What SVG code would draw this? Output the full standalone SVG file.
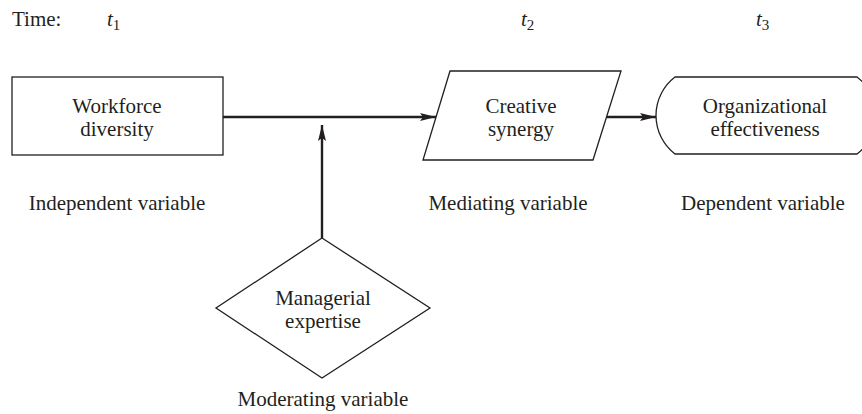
<svg xmlns="http://www.w3.org/2000/svg" width="862" height="414" viewBox="0 0 862 414">
<style>
text{font-family:"Liberation Serif","Times New Roman",serif;font-size:21px;fill:#231f20}
.c{text-anchor:middle}
.shape{fill:#fff;stroke:#231f20;stroke-width:1.3}
.conn{fill:none;stroke:#231f20;stroke-width:2.4}
.it{font-style:italic}
.sub{font-size:15px}
</style>
<defs>
<marker id="ah" markerWidth="17" markerHeight="10" refX="16" refY="5" orient="auto" markerUnits="userSpaceOnUse">
<path d="M0,1 L16,5 L0,9 L3,5 z" fill="#231f20"/>
</marker>
</defs>
<rect width="862" height="414" fill="#fff"/>
<g id="time">
<text x="12" y="26">Time:</text>
<text x="107" y="26"><tspan class="it">t</tspan><tspan class="sub" dy="4">1</tspan></text>
<text x="521" y="26"><tspan class="it">t</tspan><tspan class="sub" dy="4">2</tspan></text>
<text x="756" y="26"><tspan class="it">t</tspan><tspan class="sub" dy="4">3</tspan></text>
</g>
<g id="connectors">
<line class="conn" x1="223" y1="117" x2="436" y2="117" marker-end="url(#ah)"/>
<line class="conn" x1="322" y1="238" x2="322" y2="125" marker-end="url(#ah)"/>
<line class="conn" x1="607" y1="117" x2="656" y2="117" marker-end="url(#ah)"/>
</g>
<g id="workforce">
<rect class="shape" x="12" y="77" width="211" height="78"/>
<text class="c" x="117" y="113">Workforce</text>
<text class="c" x="117" y="136">diversity</text>
<text class="c" x="117" y="210">Independent variable</text>
</g>
<g id="creative">
<polygon class="shape" points="450,71 621,71 593,160 423,160"/>
<text class="c" x="521" y="113">Creative</text>
<text class="c" x="521" y="136">synergy</text>
<text class="c" x="508" y="210">Mediating variable</text>
</g>
<g id="effectiveness">
<path class="shape" d="M675,77 L857,77 A48.5,48.5 0 0 1 857,154 L675,154 A48.5,48.5 0 0 1 675,77 Z"/>
<text class="c" x="765" y="113">Organizational</text>
<text class="c" x="765" y="136">effectiveness</text>
<text class="c" x="763" y="210">Dependent variable</text>
</g>
<g id="managerial">
<polygon class="shape" points="322,238 430,308 322,378 216,308"/>
<text class="c" x="323" y="305">Managerial</text>
<text class="c" x="323" y="328">expertise</text>
<text class="c" x="323" y="406">Moderating variable</text>
</g>
</svg>
